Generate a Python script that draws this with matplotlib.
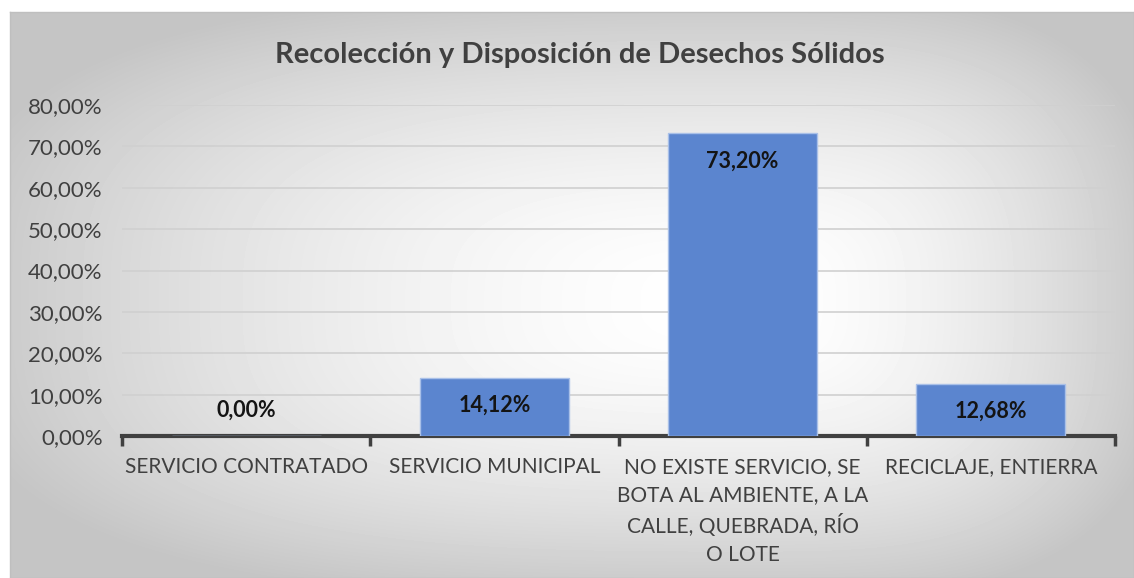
import numpy as np
import matplotlib.pyplot as plt
from matplotlib.ticker import FuncFormatter

plt.rcParams['font.family'] = ['Lato', 'DejaVu Sans']

# Datos
categorias = ['SERVICIO CONTRATADO', 'SERVICIO MUNICIPAL',
              'NO EXISTE SERVICIO, SE\nBOTA AL AMBIENTE, A LA\nCALLE, QUEBRADA, RÍO\nO LOTE',
              'RECICLAJE, ENTIERRA']
porcentajes = [0.00, 14.12, 73.20, 12.68]
etiquetas = ['0,00%', '14,12%', '73,20%', '12,68%']

fig = plt.figure(figsize=(11.34, 5.78), dpi=100)

# Fondo con degradado (blanco al centro, gris hacia los bordes)
bg = fig.add_axes([10 / 1134, 0, 1 - 10 / 1134, 1 - 12 / 578])
yy, xx = np.mgrid[0:566, 0:1124]
cx, cy = 740, 290
nx = np.where(xx < cx, (cx - xx) / cx, (xx - cx) / (1124 - cx))
ny = np.where(yy < cy, (cy - yy) / cy, (yy - cy) / (566 - cy))
d = (nx ** 3 + ny ** 3) ** (1 / 3)
gris = np.clip(1.0 - 0.2 * d ** 1.7, 0.77, 1.0)
bg.imshow(gris, cmap='gray', vmin=0, vmax=1, aspect='auto', interpolation='bilinear')
bg.set_xticks([])
bg.set_yticks([])
for s in bg.spines.values():
    s.set_color('#BFBFBF')
    s.set_linewidth(1)

ax = fig.add_axes([122 / 1134, 1 - 436 / 578, (1115 - 122) / 1134, (436 - 105) / 578])
ax.patch.set_alpha(0)

x = np.arange(len(categorias))
barras = ax.bar(x, porcentajes, width=0.6, color='#5B85CF', edgecolor='#A9C0E8',
                linewidth=1, zorder=3)

for xi, v, t in zip(x, porcentajes, etiquetas):
    if v > 5:
        ax.text(xi, v - 6.7, t, ha='center', va='center', fontsize=15.5,
                fontweight='bold', color='#141414', zorder=4)
    else:
        ax.text(xi, v + 6.3, t, ha='center', va='center', fontsize=15.5,
                fontweight='bold', color='#141414', zorder=4)

ax.set_xlim(-0.5, 3.5)
ax.set_ylim(0, 80)
ax.set_yticks(np.arange(0, 81, 10))
ax.yaxis.set_major_formatter(FuncFormatter(lambda v, p: f'{v:.2f}%'.replace('.', ',')))
ax.grid(axis='y', color='#D0D0D0', linewidth=1.2, zorder=0)
ax.tick_params(axis='y', length=0, labelsize=16, labelcolor='#404040', pad=14)

ax.set_xticks(x)
ax.set_xticklabels(categorias, fontsize=15, color='#404040', linespacing=1.5)
ax.tick_params(axis='x', length=0, pad=15)
ax.set_xticks(np.arange(-0.5, 4, 1), minor=True)
ax.tick_params(axis='x', which='minor', length=7, width=2.5, color='#404040', direction='out')

for s in ['top', 'right', 'left']:
    ax.spines[s].set_visible(False)
ax.spines['bottom'].set_color('#404040')
ax.spines['bottom'].set_linewidth(3)

fig.text(580 / 1134, 1 - 55 / 578, 'Recolección y Disposición de Desechos Sólidos',
         ha='center', va='center', fontsize=21, fontweight='bold', color='#404040')

fig.savefig('out.png', dpi=100)
